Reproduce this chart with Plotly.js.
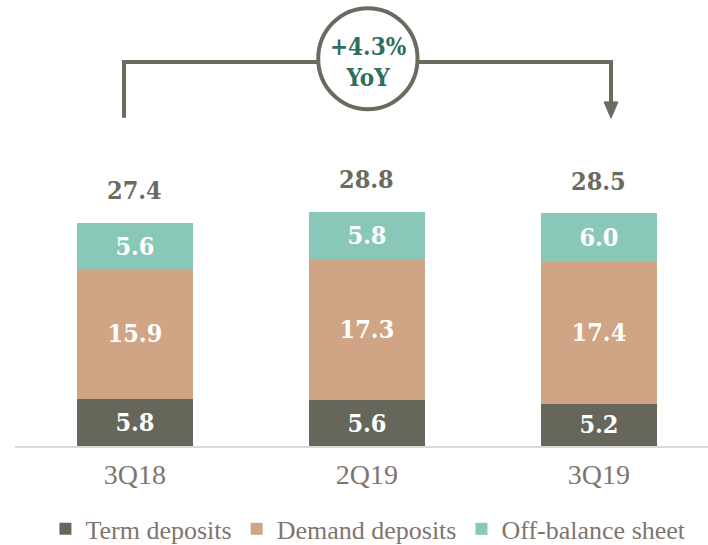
<!DOCTYPE html>
<html><head><meta charset="utf-8">
<script src="https://cdn.plot.ly/plotly-3.0.1.min.js"></script>
<style>html,body{margin:0;padding:0;background:#fff}#c{width:708px;height:545px}</style>
</head><body><div id="c"></div>
<script>
const categories = ['3Q18', '2Q19', '3Q19'];
const termDeposits = [5.8, 5.6, 5.2];
const demandDeposits = [15.9, 17.3, 17.4];
const offBalance = [5.6, 5.8, 6.0];
const totals = [27.4, 28.8, 28.5];
const seriesNames = ['Term deposits', 'Demand deposits', 'Off-balance sheet'];
const yoyLabel = '+4.3%<br>YoY';

const colors = ['#66675a', '#cfa585', '#89c8b9'];
const boldFont = 'DejaVu Serif Condensed, DejaVu Serif, serif';
const lightFont = 'Liberation Serif, serif';
const idx = categories.map((_, i) => i);

function bar(vals, name, color) {
  return {
    type: 'bar', x: idx, y: vals, name: name, width: 0.5,
    marker: {color: color, line: {width: 0}},
    text: vals.map(v => v.toFixed(1)), texttemplate: '%{text}',
    textposition: 'inside', insidetextanchor: 'middle', constraintext: 'none',
    textfont: {family: boldFont, size: 25, color: '#ffffff', weight: 'bold'},
    hoverinfo: 'skip'
  };
}

const data = [
  bar(termDeposits, seriesNames[0], colors[0]),
  bar(demandDeposits, seriesNames[1], colors[1]),
  bar(offBalance, seriesNames[2], colors[2])
];

const annotations = totals.map((t, i) => ({
  x: i, y: t, xref: 'x', yref: 'y', text: t.toFixed(1), showarrow: false,
  yanchor: 'middle', yshift: 32,
  font: {family: boldFont, size: 25, color: '#6b6a5e', weight: 'bold'}
}));
annotations.push({
  x: 1.004, y: 47.15, xref: 'x', yref: 'y', text: yoyLabel, showarrow: false,
  font: {family: boldFont, size: 24, color: '#2f6d5f', weight: 'bold'}
});

const lc = '#6b6a5e';
const shapes = [
  {type: 'path', xref: 'x', yref: 'y',
   path: 'M -0.047 40.25 L -0.047 47.1 L 2.052 47.1 L 2.052 42.0',
   line: {color: lc, width: 4}},
  {type: 'path', xref: 'x', yref: 'y',
   path: 'M 2.022 42.2 L 2.082 42.2 L 2.052 40.2 Z',
   fillcolor: lc, line: {color: lc, width: 1}},
  {type: 'circle', xref: 'x', yref: 'y',
   x0: 0.79, x1: 1.218, y0: 41.3, y1: 53.7,
   fillcolor: '#ffffff', line: {color: lc, width: 4}}
];

const layout = {
  width: 708, height: 545,
  margin: {l: 15, r: 0, t: 0, b: 99, autoexpand: false},
  barmode: 'stack', showlegend: true,
  paper_bgcolor: '#ffffff', plot_bgcolor: '#ffffff',
  xaxis: {
    range: [-0.517, 2.47], tickvals: idx, ticktext: categories,
    showgrid: false, zeroline: false, showline: true,
    linecolor: '#d9d9d9', linewidth: 2,
    ticks: '', ticklabelstandoff: 2,
    tickfont: {family: lightFont, size: 28, color: '#7f756e'},
    fixedrange: true
  },
  yaxis: {
    range: [0, 54.7], visible: false, showgrid: false, zeroline: false,
    fixedrange: true
  },
  legend: {
    orientation: 'h', x: 0.51, xanchor: 'center', y: -0.186, yanchor: 'middle',
    font: {family: lightFont, size: 26, color: '#7f756e'},
    traceorder: 'normal', itemwidth: 30
  },
  annotations: annotations,
  shapes: shapes
};

Plotly.newPlot('c', data, layout, {displayModeBar: false, staticPlot: true});
</script>
</body></html>
